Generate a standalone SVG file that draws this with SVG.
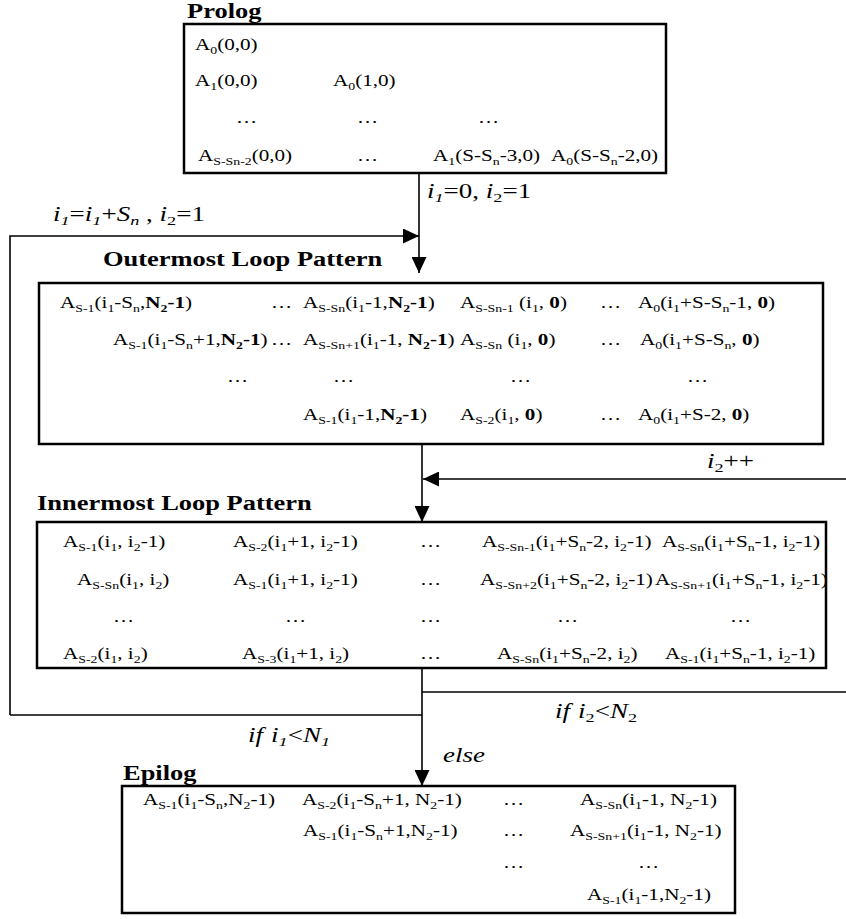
<svg xmlns="http://www.w3.org/2000/svg" width="846" height="919" viewBox="0 0 846 919">
<style>
.t{font-family:"Liberation Serif","Times New Roman",serif;font-size:16px;fill:#000}
.s{font-size:10.5px}
.b{font-weight:bold}
.h{font-family:"Liberation Serif","Times New Roman",serif;font-size:21px;font-weight:bold;fill:#000}
.l{font-family:"Liberation Serif","Times New Roman",serif;font-size:20px;font-style:italic;fill:#000}
.u{font-style:normal}
.ls{font-size:13.5px}
.box{fill:#fff;stroke:#000;stroke-width:2.5}
.c{fill:none;stroke:#000;stroke-width:1.6}
</style>
<defs>
<marker id="ar" markerUnits="userSpaceOnUse" markerWidth="16" markerHeight="15" refX="16" refY="7.5" orient="auto" viewBox="0 0 16 15">
<path d="M0,0 L16,7.5 L0,15 z" fill="#000"/>
</marker>
</defs>

<g id="connectors">
<path class="c" d="M419,173 V273" marker-end="url(#ar)"/>
<path class="c" d="M10,715 V236 H419" marker-end="url(#ar)"/>
<path class="c" d="M422,444 V522" marker-end="url(#ar)"/>
<path class="c" d="M846,479 H423" marker-end="url(#ar)"/>
<path class="c" d="M422,668 V786" marker-end="url(#ar)"/>
<path class="c" d="M422,692 H846"/>
<path class="c" d="M10,715 H422"/>
<text class="l" transform="translate(427,198) scale(1.35,1)">i<tspan class="ls" dy="4">1</tspan><tspan class="u" dy="-4">=0, </tspan>i<tspan class="ls u" dy="4">2</tspan><tspan class="u" dy="-4">=1</tspan></text>
<text class="l" transform="translate(53,221) scale(1.35,1)">i<tspan class="ls" dy="4">1</tspan><tspan class="u" dy="-4">=</tspan>i<tspan class="ls" dy="4">1</tspan><tspan class="u" dy="-4">+</tspan>S<tspan class="ls" dy="4">n</tspan><tspan class="u" dy="-4"> , </tspan>i<tspan class="ls u" dy="4">2</tspan><tspan class="u" dy="-4">=1</tspan></text>
<text class="l" transform="translate(707,468) scale(1.35,1)">i<tspan class="ls u" dy="4">2</tspan><tspan class="u" dy="-4">++</tspan></text>
<text class="l" transform="translate(555,718) scale(1.35,1)">if<tspan dx="6">i</tspan><tspan class="ls u" dy="4">2</tspan><tspan class="u" dy="-4">&lt;</tspan>N<tspan class="ls u" dy="4">2</tspan></text>
<text class="l" transform="translate(248,742) scale(1.35,1)">if<tspan dx="6">i</tspan><tspan class="ls" dy="4">1</tspan><tspan class="u" dy="-4">&lt;</tspan>N<tspan class="ls" dy="4">1</tspan></text>
<text class="l" transform="translate(443,762) scale(1.35,1)">else</text>
</g>

<g id="prolog">
<text class="h" transform="translate(187,18) scale(1.26,1)">Prolog</text>
<rect class="box" x="184" y="24" width="482" height="149"/>
<text class="t" transform="translate(195,50) scale(1.32,1)">A<tspan class="s" dy="3.5">0</tspan><tspan dy="-3.5">(0,0)</tspan></text>
<text class="t" transform="translate(195,86) scale(1.32,1)">A<tspan class="s" dy="3.5">1</tspan><tspan dy="-3.5">(0,0)</tspan></text>
<text class="t" transform="translate(333,86) scale(1.32,1)">A<tspan class="s" dy="3.5">0</tspan><tspan dy="-3.5">(1,0)</tspan></text>
<text class="t" transform="translate(236,123) scale(1.32,1)">…</text>
<text class="t" transform="translate(357,123) scale(1.32,1)">…</text>
<text class="t" transform="translate(478,123) scale(1.32,1)">…</text>
<text class="t" transform="translate(198,161) scale(1.32,1)">A<tspan class="s" dy="3.5">S-Sn-2</tspan><tspan dy="-3.5">(0,0)</tspan></text>
<text class="t" transform="translate(357,161) scale(1.32,1)">…</text>
<text class="t" transform="translate(433,161) scale(1.32,1)">A<tspan class="s" dy="3.5">1</tspan><tspan dy="-3.5">(S-S</tspan><tspan class="s" dy="3.5">n</tspan><tspan dy="-3.5">-3,0)</tspan></text>
<text class="t" transform="translate(551,161) scale(1.32,1)">A<tspan class="s" dy="3.5">0</tspan><tspan dy="-3.5">(S-S</tspan><tspan class="s" dy="3.5">n</tspan><tspan dy="-3.5">-2,0)</tspan></text>
</g>

<g id="outermost">
<text class="h" transform="translate(103,266) scale(1.26,1)">Outermost Loop Pattern</text>
<rect class="box" x="39" y="283" width="784" height="161"/>
<text class="t" transform="translate(60,308) scale(1.32,1)">A<tspan class="s" dy="3.5">S-1</tspan><tspan dy="-3.5">(i</tspan><tspan class="s" dy="3.5">1</tspan><tspan dy="-3.5">-S</tspan><tspan class="s" dy="3.5">n</tspan><tspan dy="-3.5">,</tspan><tspan class="b">N</tspan><tspan class="s b" dy="3.5">2</tspan><tspan class="b" dy="-3.5">-1</tspan>)</text>
<text class="t" transform="translate(271,308) scale(1.32,1)">…</text>
<text class="t" transform="translate(303,308) scale(1.32,1)">A<tspan class="s" dy="3.5">S-Sn</tspan><tspan dy="-3.5">(i</tspan><tspan class="s" dy="3.5">1</tspan><tspan dy="-3.5">-1,</tspan><tspan class="b">N</tspan><tspan class="s b" dy="3.5">2</tspan><tspan class="b" dy="-3.5">-1</tspan>)</text>
<text class="t" transform="translate(460,308) scale(1.32,1)">A<tspan class="s" dy="3.5">S-Sn-1</tspan><tspan dy="-3.5"> (i</tspan><tspan class="s" dy="3.5">1</tspan><tspan dy="-3.5">, </tspan><tspan class="b">0</tspan>)</text>
<text class="t" transform="translate(600,308) scale(1.32,1)">…</text>
<text class="t" transform="translate(638,308) scale(1.32,1)">A<tspan class="s" dy="3.5">0</tspan><tspan dy="-3.5">(i</tspan><tspan class="s" dy="3.5">1</tspan><tspan dy="-3.5">+S-S</tspan><tspan class="s" dy="3.5">n</tspan><tspan dy="-3.5">-1, </tspan><tspan class="b">0</tspan>)</text>

<text class="t" transform="translate(113,345) scale(1.32,1)">A<tspan class="s" dy="3.5">S-1</tspan><tspan dy="-3.5">(i</tspan><tspan class="s" dy="3.5">1</tspan><tspan dy="-3.5">-S</tspan><tspan class="s" dy="3.5">n</tspan><tspan dy="-3.5">+1,</tspan><tspan class="b">N</tspan><tspan class="s b" dy="3.5">2</tspan><tspan class="b" dy="-3.5">-1</tspan>)</text>
<text class="t" transform="translate(271,345) scale(1.32,1)">…</text>
<text class="t" transform="translate(303,345) scale(1.32,1)">A<tspan class="s" dy="3.5">S-Sn+1</tspan><tspan dy="-3.5">(i</tspan><tspan class="s" dy="3.5">1</tspan><tspan dy="-3.5">-1, </tspan><tspan class="b">N</tspan><tspan class="s b" dy="3.5">2</tspan><tspan class="b" dy="-3.5">-1</tspan>)</text>
<text class="t" transform="translate(460,345) scale(1.32,1)">A<tspan class="s" dy="3.5">S-Sn</tspan><tspan dy="-3.5"> (i</tspan><tspan class="s" dy="3.5">1</tspan><tspan dy="-3.5">, </tspan><tspan class="b">0</tspan>)</text>
<text class="t" transform="translate(600,345) scale(1.32,1)">…</text>
<text class="t" transform="translate(640,345) scale(1.32,1)">A<tspan class="s" dy="3.5">0</tspan><tspan dy="-3.5">(i</tspan><tspan class="s" dy="3.5">1</tspan><tspan dy="-3.5">+S-S</tspan><tspan class="s" dy="3.5">n</tspan><tspan dy="-3.5">, </tspan><tspan class="b">0</tspan>)</text>

<text class="t" transform="translate(227,382) scale(1.32,1)">…</text>
<text class="t" transform="translate(333,382) scale(1.32,1)">…</text>
<text class="t" transform="translate(510,382) scale(1.32,1)">…</text>
<text class="t" transform="translate(687,382) scale(1.32,1)">…</text>

<text class="t" transform="translate(303,420) scale(1.32,1)">A<tspan class="s" dy="3.5">S-1</tspan><tspan dy="-3.5">(i</tspan><tspan class="s" dy="3.5">1</tspan><tspan dy="-3.5">-1,</tspan><tspan class="b">N</tspan><tspan class="s b" dy="3.5">2</tspan><tspan class="b" dy="-3.5">-1</tspan>)</text>
<text class="t" transform="translate(460,420) scale(1.32,1)">A<tspan class="s" dy="3.5">S-2</tspan><tspan dy="-3.5">(i</tspan><tspan class="s" dy="3.5">1</tspan><tspan dy="-3.5">, </tspan><tspan class="b">0</tspan>)</text>
<text class="t" transform="translate(600,420) scale(1.32,1)">…</text>
<text class="t" transform="translate(638,420) scale(1.32,1)">A<tspan class="s" dy="3.5">0</tspan><tspan dy="-3.5">(i</tspan><tspan class="s" dy="3.5">1</tspan><tspan dy="-3.5">+S-2, </tspan><tspan class="b">0</tspan>)</text>
</g>

<g id="innermost">
<text class="h" transform="translate(37,510) scale(1.26,1)">Innermost Loop Pattern</text>
<rect class="box" x="37" y="522" width="789" height="146"/>
<text class="t" transform="translate(63,547) scale(1.32,1)">A<tspan class="s" dy="3.5">S-1</tspan><tspan dy="-3.5">(i</tspan><tspan class="s" dy="3.5">1</tspan><tspan dy="-3.5">, i</tspan><tspan class="s" dy="3.5">2</tspan><tspan dy="-3.5">-1)</tspan></text>
<text class="t" transform="translate(233,547) scale(1.32,1)">A<tspan class="s" dy="3.5">S-2</tspan><tspan dy="-3.5">(i</tspan><tspan class="s" dy="3.5">1</tspan><tspan dy="-3.5">+1, i</tspan><tspan class="s" dy="3.5">2</tspan><tspan dy="-3.5">-1)</tspan></text>
<text class="t" transform="translate(420,547) scale(1.32,1)">…</text>
<text class="t" transform="translate(482,547) scale(1.32,1)">A<tspan class="s" dy="3.5">S-Sn-1</tspan><tspan dy="-3.5">(i</tspan><tspan class="s" dy="3.5">1</tspan><tspan dy="-3.5">+S</tspan><tspan class="s" dy="3.5">n</tspan><tspan dy="-3.5">-2, i</tspan><tspan class="s" dy="3.5">2</tspan><tspan dy="-3.5">-1)</tspan></text>
<text class="t" transform="translate(662,547) scale(1.32,1)">A<tspan class="s" dy="3.5">S-Sn</tspan><tspan dy="-3.5">(i</tspan><tspan class="s" dy="3.5">1</tspan><tspan dy="-3.5">+S</tspan><tspan class="s" dy="3.5">n</tspan><tspan dy="-3.5">-1, i</tspan><tspan class="s" dy="3.5">2</tspan><tspan dy="-3.5">-1)</tspan></text>

<text class="t" transform="translate(77,585) scale(1.32,1)">A<tspan class="s" dy="3.5">S-Sn</tspan><tspan dy="-3.5">(i</tspan><tspan class="s" dy="3.5">1</tspan><tspan dy="-3.5">, i</tspan><tspan class="s" dy="3.5">2</tspan><tspan dy="-3.5">)</tspan></text>
<text class="t" transform="translate(233,585) scale(1.32,1)">A<tspan class="s" dy="3.5">S-1</tspan><tspan dy="-3.5">(i</tspan><tspan class="s" dy="3.5">1</tspan><tspan dy="-3.5">+1, i</tspan><tspan class="s" dy="3.5">2</tspan><tspan dy="-3.5">-1)</tspan></text>
<text class="t" transform="translate(420,585) scale(1.32,1)">…</text>
<text class="t" transform="translate(480,585) scale(1.32,1)">A<tspan class="s" dy="3.5">S-Sn+2</tspan><tspan dy="-3.5">(i</tspan><tspan class="s" dy="3.5">1</tspan><tspan dy="-3.5">+S</tspan><tspan class="s" dy="3.5">n</tspan><tspan dy="-3.5">-2, i</tspan><tspan class="s" dy="3.5">2</tspan><tspan dy="-3.5">-1)</tspan></text>
<text class="t" transform="translate(655,585) scale(1.32,1)">A<tspan class="s" dy="3.5">S-Sn+1</tspan><tspan dy="-3.5">(i</tspan><tspan class="s" dy="3.5">1</tspan><tspan dy="-3.5">+S</tspan><tspan class="s" dy="3.5">n</tspan><tspan dy="-3.5">-1, i</tspan><tspan class="s" dy="3.5">2</tspan><tspan dy="-3.5">-1)</tspan></text>

<text class="t" transform="translate(113,622) scale(1.32,1)">…</text>
<text class="t" transform="translate(285,622) scale(1.32,1)">…</text>
<text class="t" transform="translate(420,622) scale(1.32,1)">…</text>
<text class="t" transform="translate(557,622) scale(1.32,1)">…</text>
<text class="t" transform="translate(730,622) scale(1.32,1)">…</text>

<text class="t" transform="translate(63,659) scale(1.32,1)">A<tspan class="s" dy="3.5">S-2</tspan><tspan dy="-3.5">(i</tspan><tspan class="s" dy="3.5">1</tspan><tspan dy="-3.5">, i</tspan><tspan class="s" dy="3.5">2</tspan><tspan dy="-3.5">)</tspan></text>
<text class="t" transform="translate(242,659) scale(1.32,1)">A<tspan class="s" dy="3.5">S-3</tspan><tspan dy="-3.5">(i</tspan><tspan class="s" dy="3.5">1</tspan><tspan dy="-3.5">+1, i</tspan><tspan class="s" dy="3.5">2</tspan><tspan dy="-3.5">)</tspan></text>
<text class="t" transform="translate(420,659) scale(1.32,1)">…</text>
<text class="t" transform="translate(497,659) scale(1.32,1)">A<tspan class="s" dy="3.5">S-Sn</tspan><tspan dy="-3.5">(i</tspan><tspan class="s" dy="3.5">1</tspan><tspan dy="-3.5">+S</tspan><tspan class="s" dy="3.5">n</tspan><tspan dy="-3.5">-2, i</tspan><tspan class="s" dy="3.5">2</tspan><tspan dy="-3.5">)</tspan></text>
<text class="t" transform="translate(665,659) scale(1.32,1)">A<tspan class="s" dy="3.5">S-1</tspan><tspan dy="-3.5">(i</tspan><tspan class="s" dy="3.5">1</tspan><tspan dy="-3.5">+S</tspan><tspan class="s" dy="3.5">n</tspan><tspan dy="-3.5">-1, i</tspan><tspan class="s" dy="3.5">2</tspan><tspan dy="-3.5">-1)</tspan></text>
</g>

<g id="epilog">
<text class="h" transform="translate(123,780) scale(1.26,1)">Epilog</text>
<rect class="box" x="122" y="786" width="613" height="127"/>
<text class="t" transform="translate(143,805) scale(1.32,1)">A<tspan class="s" dy="3.5">S-1</tspan><tspan dy="-3.5">(i</tspan><tspan class="s" dy="3.5">1</tspan><tspan dy="-3.5">-S</tspan><tspan class="s" dy="3.5">n</tspan><tspan dy="-3.5">,N</tspan><tspan class="s" dy="3.5">2</tspan><tspan dy="-3.5">-1)</tspan></text>
<text class="t" transform="translate(302,805) scale(1.32,1)">A<tspan class="s" dy="3.5">S-2</tspan><tspan dy="-3.5">(i</tspan><tspan class="s" dy="3.5">1</tspan><tspan dy="-3.5">-S</tspan><tspan class="s" dy="3.5">n</tspan><tspan dy="-3.5">+1, N</tspan><tspan class="s" dy="3.5">2</tspan><tspan dy="-3.5">-1)</tspan></text>
<text class="t" transform="translate(503,805) scale(1.32,1)">…</text>
<text class="t" transform="translate(580,805) scale(1.32,1)">A<tspan class="s" dy="3.5">S-Sn</tspan><tspan dy="-3.5">(i</tspan><tspan class="s" dy="3.5">1</tspan><tspan dy="-3.5">-1, N</tspan><tspan class="s" dy="3.5">2</tspan><tspan dy="-3.5">-1)</tspan></text>

<text class="t" transform="translate(303,836) scale(1.32,1)">A<tspan class="s" dy="3.5">S-1</tspan><tspan dy="-3.5">(i</tspan><tspan class="s" dy="3.5">1</tspan><tspan dy="-3.5">-S</tspan><tspan class="s" dy="3.5">n</tspan><tspan dy="-3.5">+1,N</tspan><tspan class="s" dy="3.5">2</tspan><tspan dy="-3.5">-1)</tspan></text>
<text class="t" transform="translate(503,836) scale(1.32,1)">…</text>
<text class="t" transform="translate(570,836) scale(1.32,1)">A<tspan class="s" dy="3.5">S-Sn+1</tspan><tspan dy="-3.5">(i</tspan><tspan class="s" dy="3.5">1</tspan><tspan dy="-3.5">-1, N</tspan><tspan class="s" dy="3.5">2</tspan><tspan dy="-3.5">-1)</tspan></text>

<text class="t" transform="translate(503,868) scale(1.32,1)">…</text>
<text class="t" transform="translate(638,868) scale(1.32,1)">…</text>

<text class="t" transform="translate(587,900) scale(1.32,1)">A<tspan class="s" dy="3.5">S-1</tspan><tspan dy="-3.5">(i</tspan><tspan class="s" dy="3.5">1</tspan><tspan dy="-3.5">-1,N</tspan><tspan class="s" dy="3.5">2</tspan><tspan dy="-3.5">-1)</tspan></text>
</g>
</svg>
